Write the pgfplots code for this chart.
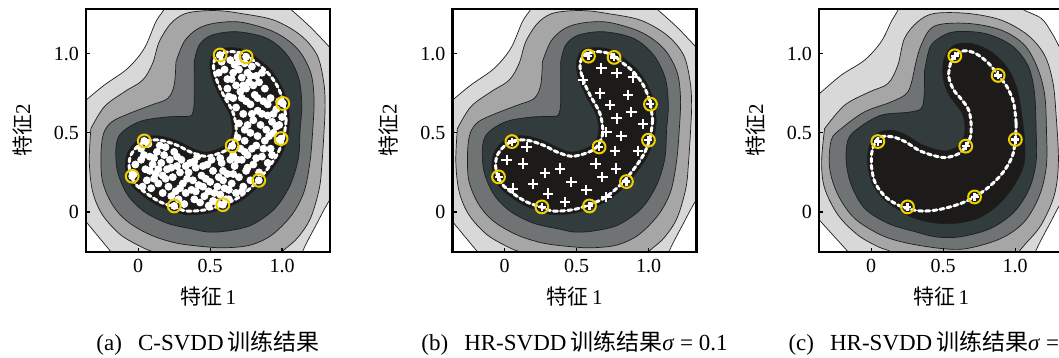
\documentclass[border=0pt]{standalone}
\usepackage{fontspec}
\setmainfont{Liberation Serif}
\newfontfamily\cjkf{Noto Sans CJK SC}
\usepackage{pgfplots}
\pgfplotsset{compat=1.18}
\definecolor{cA}{RGB}{216,216,216}
\definecolor{cB}{RGB}{166,166,166}
\definecolor{cC}{RGB}{112,115,115}
\definecolor{cD}{RGB}{50,60,60}
\definecolor{cE}{RGB}{29,26,26}
\definecolor{svc}{RGB}{238,208,0}
\definecolor{cl}{RGB}{30,30,30}
\pgfplotsset{
 mypanel/.style={
  scale only axis, width=122pt, height=121.5pt,
  xmin=-0.363, xmax=1.333, ymin=-0.253, ymax=1.283,
  xtick={0,0.5,1}, xticklabels={0,0.5,1.0},
  ytick={0,0.5,1}, yticklabels={0,0.5,1.0},
  tick align=inside, tick pos=left, major tick length=2pt,
  every tick/.style={black, line width=0.6pt},
  axis line style={line width=1.2pt},
  axis on top,
  ticklabel style={font=\fontsize{10}{11}\selectfont},
  xlabel={{\cjkf 特征}\,1}, ylabel={{\cjkf 特征}2},
  xlabel style={at={(axis description cs:0.5,-0.185)}, anchor=center, font=\fontsize{10.5}{12}\selectfont},
  ylabel style={at={(axis description cs:-0.262,0.5)}, anchor=center, font=\fontsize{10.5}{12}\selectfont},
 },
 mycont/.style={draw=cl, line width=0.35pt, smooth, tension=0.55},
 mycrn/.style={fill=white, mycont},
 mydash/.style={draw=white, line width=1.5pt, smooth, tension=0.55, dash pattern=on 2pt off 1.6pt, line cap=round},
 myring/.style={only marks, mark=o, mark size=3.2pt, mark options={draw=svc, line width=1pt}},
 mysvplus/.style={only marks, mark=+, mark size=2pt, mark options={draw=white, line width=1.2pt}},
}
\newcommand{\ContBg}{%
 \addplot[fill=cA, draw=none] coordinates {(-0.5,-0.4)(1.5,-0.4)(1.5,1.45)(-0.5,1.45)} -- cycle;
}
\newcommand{\ContAB}{%
 \ContBg
 \addplot[mycrn] coordinates {(-0.45,0.642) (-0.363,0.707) (-0.236,0.802) (-0.074,0.907) (0.042,1.034) (0.123,1.203) (0.181,1.283) (0.21,1.36) (-0.45,1.36)} -- cycle;
 \addplot[mycrn] coordinates {(0.964,1.36) (1.058,1.283) (1.194,1.171) (1.317,1.055) (1.42,0.958) (1.42,1.36)} -- cycle;
 \addplot[mycrn] coordinates {(1.42,0.20) (1.317,0.055) (1.241,-0.074) (1.150,-0.234) (1.12,-0.33) (1.42,-0.33)} -- cycle;
 \addplot[mycrn] coordinates {(-0.45,0.035) (-0.363,-0.061) (-0.275,-0.158) (-0.190,-0.251) (-0.118,-0.33) (-0.45,-0.33)} -- cycle;
 \addplot[mycont, fill=cB] coordinates {(-0.329,0.527) (-0.236,0.665) (-0.097,0.759) (0.030,0.833) (0.100,0.939) (0.146,1.076) (0.227,1.192) (0.319,1.251) (0.431,1.270) (0.569,1.272) (0.711,1.255) (0.942,1.213) (1.127,1.118) (1.243,0.992) (1.289,0.823) (1.299,0.675) (1.292,0.517) (1.278,0.319) (1.259,0.150) (1.197,-0.040) (1.104,-0.167) (0.988,-0.262) (0.963,-0.33) (0.153,-0.33) (0.134,-0.266) (0.042,-0.230) (-0.120,-0.146) (-0.248,-0.019) (-0.317,0.129) (-0.340,0.319) (-0.329,0.527)};
 \addplot[mycont, fill=cC] coordinates {(0.262,0.949) (0.319,1.076) (0.407,1.154) (0.523,1.192) (0.711,1.200) (0.942,1.139) (1.104,1.034) (1.197,0.886) (1.222,0.717) (1.213,0.517) (1.194,0.319) (1.153,0.129) (1.067,-0.019) (0.928,-0.146) (0.780,-0.209) (0.616,-0.226) (0.493,-0.222) (0.273,-0.198) (0.088,-0.146) (-0.074,-0.061) (-0.178,0.044) (-0.248,0.192) (-0.259,0.361) (-0.241,0.496) (-0.183,0.570) (-0.074,0.618) (0.088,0.675) (0.204,0.717) (0.250,0.802) (0.262,0.949)};
 \addplot[mycont, fill=cD] coordinates {(0.389,0.949) (0.424,1.055) (0.512,1.118) (0.688,1.139) (0.896,1.097) (1.035,0.992) (1.116,0.844) (1.137,0.675) (1.125,0.517) (1.113,0.340) (1.056,0.171) (0.951,0.023) (0.789,-0.082) (0.618,-0.120) (0.488,-0.127) (0.389,-0.110) (0.204,-0.072) (0.042,0.002) (-0.074,0.108) (-0.144,0.255) (-0.155,0.403) (-0.130,0.485) (-0.056,0.542) (0.042,0.580) (0.204,0.601) (0.35,0.605) (0.378,0.625) (0.389,0.70) (0.389,0.949)};
 \addplot[mycont, fill=cE] coordinates {(1.053,0.580) (1.035,0.458) (0.986,0.344) (0.903,0.236) (0.819,0.148) (0.708,0.068) (0.593,0.023) (0.477,-0.008) (0.338,-0.017) (0.241,0.008) (0.141,0.040) (0.044,0.095) (-0.044,0.167) (-0.086,0.259) (-0.081,0.357) (-0.028,0.432) (0.053,0.475) (0.157,0.479) (0.278,0.447) (0.370,0.405) (0.465,0.378) (0.558,0.399) (0.616,0.432) (0.653,0.500) (0.637,0.612) (0.569,0.728) (0.521,0.825) (0.498,0.913) (0.505,0.970) (0.546,1.027) (0.662,1.038) (0.759,1.017) (0.843,0.960) (0.917,0.903) (0.986,0.812) (1.035,0.703) (1.053,0.580)};
}
\newcommand{\DashAB}{%
 \addplot[mydash] coordinates {(1.028,0.580) (1.009,0.464) (0.963,0.359) (0.882,0.253) (0.801,0.169) (0.697,0.091) (0.588,0.046) (0.477,0.015) (0.338,0.006) (0.25,0.032) (0.153,0.063) (0.060,0.116) (-0.021,0.179) (-0.060,0.264) (-0.056,0.348) (-0.009,0.411) (0.060,0.449) (0.153,0.454) (0.269,0.422) (0.361,0.380) (0.465,0.352) (0.569,0.373) (0.639,0.411) (0.681,0.496) (0.662,0.622) (0.593,0.738) (0.546,0.833) (0.523,0.918) (0.535,0.970) (0.569,1.002) (0.662,1.013) (0.75,0.992) (0.824,0.939) (0.894,0.886) (0.963,0.802) (1.009,0.696) (1.028,0.580)};
}
\begin{document}
\begin{tikzpicture}
\useasboundingbox (0,0) rectangle (529.5pt,179pt);
\clip (0,0) rectangle (529.5pt,179pt);
\begin{axis}[mypanel, at={(43pt,174.5pt)}, anchor=north west]
\ContAB
\DashAB
\addplot[only marks, mark=*, white, mark size=1.75pt] coordinates {
(-0.02,0.30) (0.02,0.33) (0.05,0.27) (0.08,0.35) (0.10,0.30) (0.13,0.38) (0.12,0.24) (0.16,0.31) (0.18,0.36) (0.20,0.27)
(0.22,0.33) (0.25,0.38) (0.24,0.22) (0.27,0.29) (0.29,0.25) (0.06,0.20) (0.09,0.15) (0.14,0.18) (0.17,0.12) (0.21,0.16)
(0.26,0.13) (0.28,0.08) (0.31,0.18) (0.33,0.12) (0.35,0.25) (0.38,0.20) (0.02,0.40) (0.15,0.42) (0.19,0.21) (0.23,0.10)
(0.30,0.33) (0.03,0.16) (-0.03,0.24) (0.11,0.21) (0.32,0.05)
(0.36,0.31) (0.40,0.28) (0.42,0.17) (0.44,0.23) (0.46,0.10) (0.48,0.30) (0.50,0.19) (0.52,0.26) (0.53,0.12) (0.55,0.06)
(0.56,0.22) (0.58,0.31) (0.60,0.15) (0.62,0.24) (0.63,0.08) (0.65,0.18) (0.67,0.29) (0.68,0.12) (0.70,0.22) (0.72,0.33)
(0.39,0.08) (0.41,0.35) (0.45,0.16) (0.49,0.04) (0.57,0.34) (0.61,0.08) (0.66,0.36) (0.73,0.16) (0.75,0.26) (0.37,0.14)
(0.51,0.33) (0.59,0.26) (0.64,0.33) (0.55,0.16) (0.47,0.21)
(0.76,0.36) (0.78,0.20) (0.80,0.30) (0.82,0.42) (0.84,0.25) (0.86,0.35) (0.88,0.45) (0.90,0.31) (0.92,0.40) (0.94,0.50)
(0.97,0.45) (0.74,0.45) (0.78,0.50) (0.71,0.40) (0.93,0.36) (0.83,0.48) (0.89,0.52) (0.69,0.47) (0.76,0.28)
(0.70,0.56) (0.73,0.62) (0.76,0.55) (0.78,0.68) (0.80,0.58) (0.83,0.64) (0.85,0.55) (0.87,0.70) (0.90,0.61) (0.93,0.57)
(0.96,0.65) (0.98,0.55) (1.00,0.60) (0.72,0.72) (0.75,0.78) (0.81,0.74) (0.88,0.78) (0.92,0.72) (0.68,0.66) (0.84,0.82)
(0.62,0.78) (0.65,0.84) (0.68,0.80) (0.70,0.90) (0.72,0.85) (0.74,0.94) (0.76,0.88) (0.79,0.92) (0.82,0.86) (0.60,0.90)
(0.58,0.95) (0.64,0.96) (0.67,0.93) (0.77,0.82) (0.71,0.76) (0.86,0.88) (0.63,0.73) (0.80,0.80) (0.69,0.98) (0.56,0.88)
(0.04,0.36) (0.07,0.43) (0.11,0.34) (0.19,0.41) (0.23,0.28) (0.27,0.35) (0.33,0.29) (0.34,0.21) (0.39,0.32) (0.43,0.06)
(0.45,0.29) (0.49,0.13) (0.52,0.07) (0.57,0.11) (0.59,0.20) (0.63,0.14) (0.66,0.24) (0.69,0.33) (0.72,0.13) (0.74,0.38)
(0.79,0.40) (0.82,0.34) (0.87,0.40) (0.91,0.48) (0.96,0.54) (0.74,0.52) (0.79,0.62) (0.86,0.62) (0.94,0.62) (0.98,0.70)
(0.75,0.70) (0.83,0.72) (0.90,0.68) (0.66,0.72) (0.73,0.80) (0.78,0.86) (0.66,0.88) (0.62,0.84) (0.70,0.95) (0.08,0.26)
(0.14,0.27) (0.17,0.23) (0.29,0.15) (0.40,0.13)
(0.569,0.992) (0.750,0.981) (1.005,0.686) (0.993,0.464) (0.653,0.418) (0.042,0.449) (-0.042,0.226) (0.250,0.038) (0.588,0.046) (0.838,0.200)};
\addplot[myring] coordinates {(0.569,0.992) (0.750,0.981) (1.005,0.686) (0.993,0.464) (0.653,0.418) (0.042,0.449) (-0.042,0.226) (0.250,0.038) (0.588,0.046) (0.838,0.200)};
\end{axis}
\begin{axis}[mypanel, at={(226.25pt,174.5pt)}, anchor=north west]
\ContAB
\DashAB
\addplot[only marks, mark=+, mark size=2.6pt, mark options={draw=white, line width=1pt}] coordinates {
(0.672,0.907) (0.777,0.880) (0.892,0.850) (0.545,0.833) (0.661,0.749) (0.858,0.738) (0.730,0.675) (0.881,0.633) (0.777,0.591) (0.962,0.555)
(0.707,0.506) (0.811,0.479) (0.765,0.386) (0.927,0.386) (0.152,0.411) (0.013,0.327) (0.128,0.306) (0.631,0.306) (0.383,0.274) (0.772,0.274)
(0.279,0.247) (0.679,0.222) (0.464,0.190) (0.198,0.175) (0.054,0.148) (0.568,0.137) (0.302,0.116) (0.707,0.095) (0.418,0.063)};
\addplot[mysvplus] coordinates {(0.582,0.985) (0.760,0.977) (1.013,0.681) (0.999,0.454) (0.656,0.411) (0.050,0.445) (-0.043,0.222) (0.258,0.032) (0.589,0.038) (0.846,0.192)};
\addplot[myring] coordinates {(0.582,0.985) (0.760,0.977) (1.013,0.681) (0.999,0.454) (0.656,0.411) (0.050,0.445) (-0.043,0.222) (0.258,0.032) (0.589,0.038) (0.846,0.192)};
\end{axis}
\begin{axis}[mypanel, at={(409.5pt,174.5pt)}, anchor=north west]
\ContBg
\addplot[mycrn] coordinates {(-0.45,0.679) (-0.359,0.749) (-0.208,0.865) (-0.046,0.960) (0.069,1.076) (0.139,1.203) (0.185,1.276) (0.21,1.36) (-0.45,1.36)} -- cycle;
\addplot[mycrn] coordinates {(0.98,1.36) (1.042,1.287) (1.181,1.224) (1.250,1.139) (1.301,1.055) (1.35,0.96) (1.42,0.90) (1.42,1.36)} -- cycle;
\addplot[mycrn] coordinates {(1.42,0.20) (1.317,0.055) (1.241,-0.074) (1.150,-0.234) (1.12,-0.33) (1.42,-0.33)} -- cycle;
\addplot[mycrn] coordinates {(-0.45,0.06) (-0.370,-0.040) (-0.264,-0.148) (-0.162,-0.251) (-0.09,-0.33) (-0.45,-0.33)} -- cycle;
\addplot[mycont, fill=cB] coordinates {(-0.324,0.527) (-0.185,0.675) (-0.012,0.759) (0.116,0.812) (0.185,0.928) (0.231,1.097) (0.324,1.203) (0.440,1.255) (0.671,1.255) (0.903,1.213) (1.088,1.118) (1.204,0.992) (1.262,0.823) (1.285,0.612) (1.301,0.319) (1.273,0.108) (1.181,-0.082) (1.065,-0.209) (1.019,-0.262) (0.99,-0.33) (0.16,-0.33) (0.139,-0.255) (0.046,-0.219) (-0.093,-0.146) (-0.231,-0.019) (-0.324,0.150) (-0.345,0.319) (-0.324,0.527)};
\addplot[mycont, fill=cC] coordinates {(0.301,0.907) (0.347,1.055) (0.440,1.175) (0.671,1.192) (0.903,1.150) (1.065,1.055) (1.157,0.907) (1.206,0.738) (1.218,0.517) (1.218,0.297) (1.171,0.108) (1.065,-0.061) (0.903,-0.167) (0.671,-0.230) (0.500,-0.232) (0.255,-0.198) (0.069,-0.146) (-0.116,-0.040) (-0.231,0.108) (-0.289,0.276) (-0.278,0.454) (-0.208,0.527) (-0.046,0.633) (0.139,0.696) (0.255,0.759) (0.301,0.907)};
\addplot[mycont, fill=cD] coordinates {(0.370,0.886) (0.405,1.034) (0.468,1.097) (0.579,1.139) (0.787,1.129) (0.972,1.055) (1.088,0.928) (1.134,0.759) (1.146,0.517) (1.146,0.319) (1.100,0.150) (0.995,0.002) (0.833,-0.103) (0.625,-0.156) (0.454,-0.158) (0.301,-0.124) (0.116,-0.072) (-0.046,0.023) (-0.139,0.171) (-0.174,0.319) (-0.162,0.454) (-0.093,0.527) (0.069,0.612) (0.278,0.633) (0.359,0.675) (0.370,0.886)};
\addplot[mycont, fill=cE] coordinates {(1.06,0.517) (1.065,0.319) (0.995,0.171) (0.880,0.044) (0.741,-0.040) (0.579,-0.072) (0.431,-0.068) (0.292,-0.036) (0.176,0.021) (0.083,0.084) (0.014,0.169) (-0.021,0.276) (-0.021,0.390) (0.012,0.466) (0.060,0.506) (0.148,0.517) (0.245,0.485) (0.338,0.432) (0.426,0.401) (0.516,0.386) (0.588,0.407) (0.625,0.445) (0.648,0.485) (0.650,0.559) (0.634,0.622) (0.588,0.681) (0.535,0.749) (0.500,0.844) (0.500,0.939) (0.523,1.002) (0.579,1.055) (0.694,1.065) (0.833,1.013) (0.949,0.907) (1.019,0.759) (1.06,0.517)};
\addplot[mydash] coordinates {(1.007,0.559) (1.002,0.458) (0.979,0.348) (0.910,0.243) (0.817,0.158) (0.718,0.095) (0.609,0.049) (0.470,0.015) (0.354,0.006) (0.252,0.021) (0.176,0.049) (0.100,0.095) (0.030,0.179) (0.002,0.285) (0.007,0.390) (0.053,0.470) (0.146,0.475) (0.238,0.443) (0.331,0.390) (0.424,0.359) (0.516,0.344) (0.609,0.369) (0.657,0.416) (0.690,0.475) (0.694,0.559) (0.678,0.643) (0.632,0.707) (0.574,0.770) (0.539,0.854) (0.551,0.939) (0.581,0.987) (0.644,1.019) (0.725,1.002) (0.817,0.939) (0.882,0.863) (0.944,0.791) (0.991,0.686) (1.007,0.559)};
\addplot[mysvplus] coordinates {(0.581,0.987) (0.882,0.863) (1.002,0.458) (0.657,0.416) (0.046,0.445) (0.252,0.032) (0.718,0.095)};
\addplot[myring] coordinates {(0.581,0.987) (0.882,0.863) (1.002,0.458) (0.657,0.416) (0.046,0.445) (0.252,0.032) (0.718,0.095)};
\end{axis}
\node[font=\fontsize{11.5}{13}\selectfont, anchor=center] at (104pt,7.5pt) {(a)\hspace{0.7em}C-SVDD\,{\cjkf 训练结果}};
\node[font=\fontsize{11.5}{13}\selectfont, anchor=center] at (287.25pt,7.5pt) {(b)\hspace{0.7em}HR-SVDD\,{\cjkf 训练结果}\textit{σ} = 0.1};
\node[font=\fontsize{11.5}{13}\selectfont, anchor=center] at (470.5pt,7.5pt) {(c)\hspace{0.7em}HR-SVDD\,{\cjkf 训练结果}\textit{σ} = 0.5};
\end{tikzpicture}
\end{document}
